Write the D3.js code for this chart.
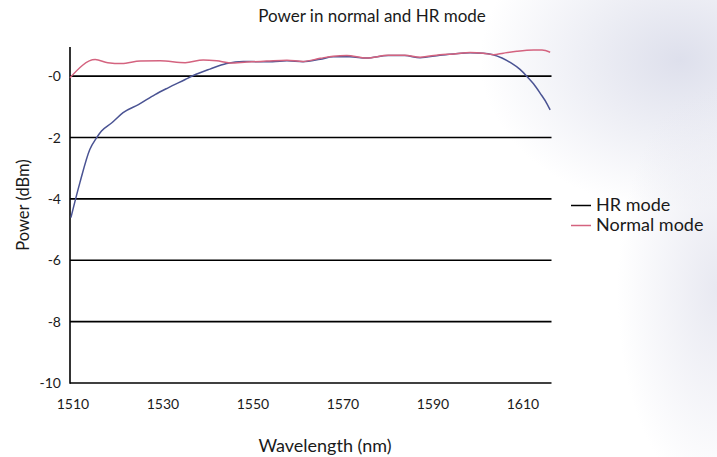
<!DOCTYPE html>
<html>
<head>
<meta charset="utf-8">
<script src="https://cdn.jsdelivr.net/npm/d3@7"></script>
<style>
  html, body { margin: 0; padding: 0; background: #fff; }
  svg { display: block; font-family: Lato, "Open Sans", sans-serif; }
</style>
</head>
<body>
<div id="chart"></div>
<script>
// wavelength (nm) / power (dBm)
var hrWave = [1510.2, 1512.2, 1514.4, 1515.9, 1517.0, 1519.3, 1521.8, 1525.2, 1528.9, 1531.8,
              1535.6, 1537.4, 1541.1, 1544.8, 1548.5, 1552.2, 1555.0, 1558.2, 1561.8, 1565.6,
              1568.5, 1572.2, 1575.9, 1580.7, 1584.4, 1587.8, 1592.2, 1595.2, 1598.9, 1601.8,
              1604.0, 1606.0, 1608.0, 1610.0, 1611.5, 1613.0, 1614.5, 1616.0, 1616.7];
var hrPower = [-4.61, -3.47, -2.39, -2.01, -1.79, -1.52, -1.19, -0.93, -0.60, -0.38,
               -0.11, 0.02, 0.23, 0.41, 0.48, 0.47, 0.47, 0.50, 0.47, 0.55,
               0.63, 0.63, 0.59, 0.67, 0.67, 0.60, 0.68, 0.72, 0.76, 0.75,
               0.70, 0.59, 0.43, 0.22, 0.00, -0.25, -0.56, -0.90, -1.10];

var normalWave = [1510.0, 1515.6, 1518.4, 1521.5, 1525.6, 1530.0, 1535.6, 1539.6, 1542.6, 1545.6,
                  1549.3, 1553.7, 1558.2, 1561.8, 1565.6, 1568.5, 1571.5, 1575.9, 1580.7, 1584.4,
                  1587.8, 1592.2, 1595.2, 1598.9, 1601.8, 1604.1, 1606.3, 1609.3, 1613.0, 1614.9,
                  1616.7];
var normalPower = [-0.05, 0.54, 0.44, 0.41, 0.49, 0.50, 0.44, 0.53, 0.50, 0.43,
                   0.46, 0.49, 0.52, 0.48, 0.58, 0.65, 0.67, 0.59, 0.68, 0.68,
                   0.62, 0.70, 0.72, 0.77, 0.75, 0.70, 0.75, 0.81, 0.85, 0.85,
                   0.78];

var xTicks = [1510, 1530, 1550, 1570, 1590, 1610];
var yTicks = [-10, -8, -6, -4, -2, 0];
var yTickLabels = ["-10", "-8", "-6", "-4", "-2", "-0"];
var seriesNames = ["HR mode", "Normal mode"];
var seriesColors = ["#4a5393", "#d4637f"];
var legendColors = ["#000", "#d4637f"];

var width = 717, height = 457;

var x = d3.scaleLinear().domain([1510, 1617]).range([70, 551.5]);
var y = d3.scaleLinear().domain([-10, 0.95]).range([383, 47]);

var svg = d3.select("#chart").append("svg")
    .attr("width", width)
    .attr("height", height);

// soft backdrop on the right
var defs = svg.append("defs");
var g1 = defs.append("radialGradient").attr("id", "haze1");
g1.append("stop").attr("offset", "0%").attr("stop-color", "#dcdeeb").attr("stop-opacity", 0.95);
g1.append("stop").attr("offset", "100%").attr("stop-color", "#dcdeeb").attr("stop-opacity", 0);
var g2 = defs.append("radialGradient").attr("id", "haze2");
g2.append("stop").attr("offset", "0%").attr("stop-color", "#e4e5ef").attr("stop-opacity", 0.85);
g2.append("stop").attr("offset", "100%").attr("stop-color", "#e4e5ef").attr("stop-opacity", 0);

svg.append("rect").attr("width", width).attr("height", height).attr("fill", "#fff");
svg.append("ellipse").attr("cx", 680).attr("cy", 60).attr("rx", 200).attr("ry", 150).attr("fill", "url(#haze1)");
svg.append("ellipse").attr("cx", 717).attr("cy", 290).attr("rx", 100).attr("ry", 210).attr("fill", "url(#haze2)");

// title
svg.append("text")
    .attr("x", 372).attr("y", 22)
    .attr("text-anchor", "middle")
    .attr("font-size", 17)
    .attr("fill", "#1a1a1a")
    .text("Power in normal and HR mode");

// grid lines
svg.append("g").selectAll("line")
    .data(yTicks)
    .enter()
    .append("line")
    .attr("x1", x(1510)).attr("x2", x(1617))
    .attr("y1", function (d) { return y(d); })
    .attr("y2", function (d) { return y(d); })
    .attr("stroke", "#000")
    .attr("stroke-width", 1.6);

// y axis line
svg.append("line")
    .attr("x1", x(1510)).attr("x2", x(1510))
    .attr("y1", y(0.95)).attr("y2", y(-10) + 0.8)
    .attr("stroke", "#000")
    .attr("stroke-width", 1.6);

// y tick labels
svg.append("g").selectAll("text")
    .data(yTicks)
    .enter()
    .append("text")
    .attr("x", 61)
    .attr("y", function (d) { return y(d); })
    .attr("dy", "0.36em")
    .attr("text-anchor", "end")
    .attr("font-size", 14)
    .attr("fill", "#1a1a1a")
    .text(function (d, i) { return yTickLabels[i]; });

// x tick labels
svg.append("g").selectAll("text")
    .data(xTicks)
    .enter()
    .append("text")
    .attr("x", function (d) { return x(d) + 3; })
    .attr("y", 409)
    .attr("text-anchor", "middle")
    .attr("font-size", 14)
    .attr("fill", "#1a1a1a")
    .text(function (d) { return d; });

// axis titles
svg.append("text")
    .attr("transform", "translate(29,205) rotate(-90)")
    .attr("text-anchor", "middle")
    .attr("font-size", 16.5)
    .attr("fill", "#1a1a1a")
    .text("Power (dBm)");

svg.append("text")
    .attr("x", 325).attr("y", 452)
    .attr("text-anchor", "middle")
    .attr("font-size", 18)
    .attr("fill", "#1a1a1a")
    .text("Wavelength (nm)");

// curves
var line = d3.line()
    .x(function (d) { return x(d[0]); })
    .y(function (d) { return y(d[1]); })
    .curve(d3.curveMonotoneX);

var series = [
    d3.zip(hrWave, hrPower),
    d3.zip(normalWave, normalPower)
];

svg.append("g").selectAll("path")
    .data(series)
    .enter()
    .append("path")
    .attr("d", line)
    .attr("fill", "none")
    .attr("stroke", function (d, i) { return seriesColors[i]; })
    .attr("stroke-width", 1.5);

// legend
var legend = svg.append("g").selectAll("g")
    .data(seriesNames)
    .enter()
    .append("g")
    .attr("transform", function (d, i) { return "translate(571," + (205.5 + i * 20) + ")"; });

legend.append("line")
    .attr("x1", 0).attr("x2", 20)
    .attr("stroke", function (d, i) { return legendColors[i]; })
    .attr("stroke-width", 1.5);

legend.append("text")
    .attr("x", 25)
    .attr("y", 5.5)
    .attr("font-size", 18)
    .attr("fill", "#1a1a1a")
    .text(function (d) { return d; });
</script>
</body>
</html>
